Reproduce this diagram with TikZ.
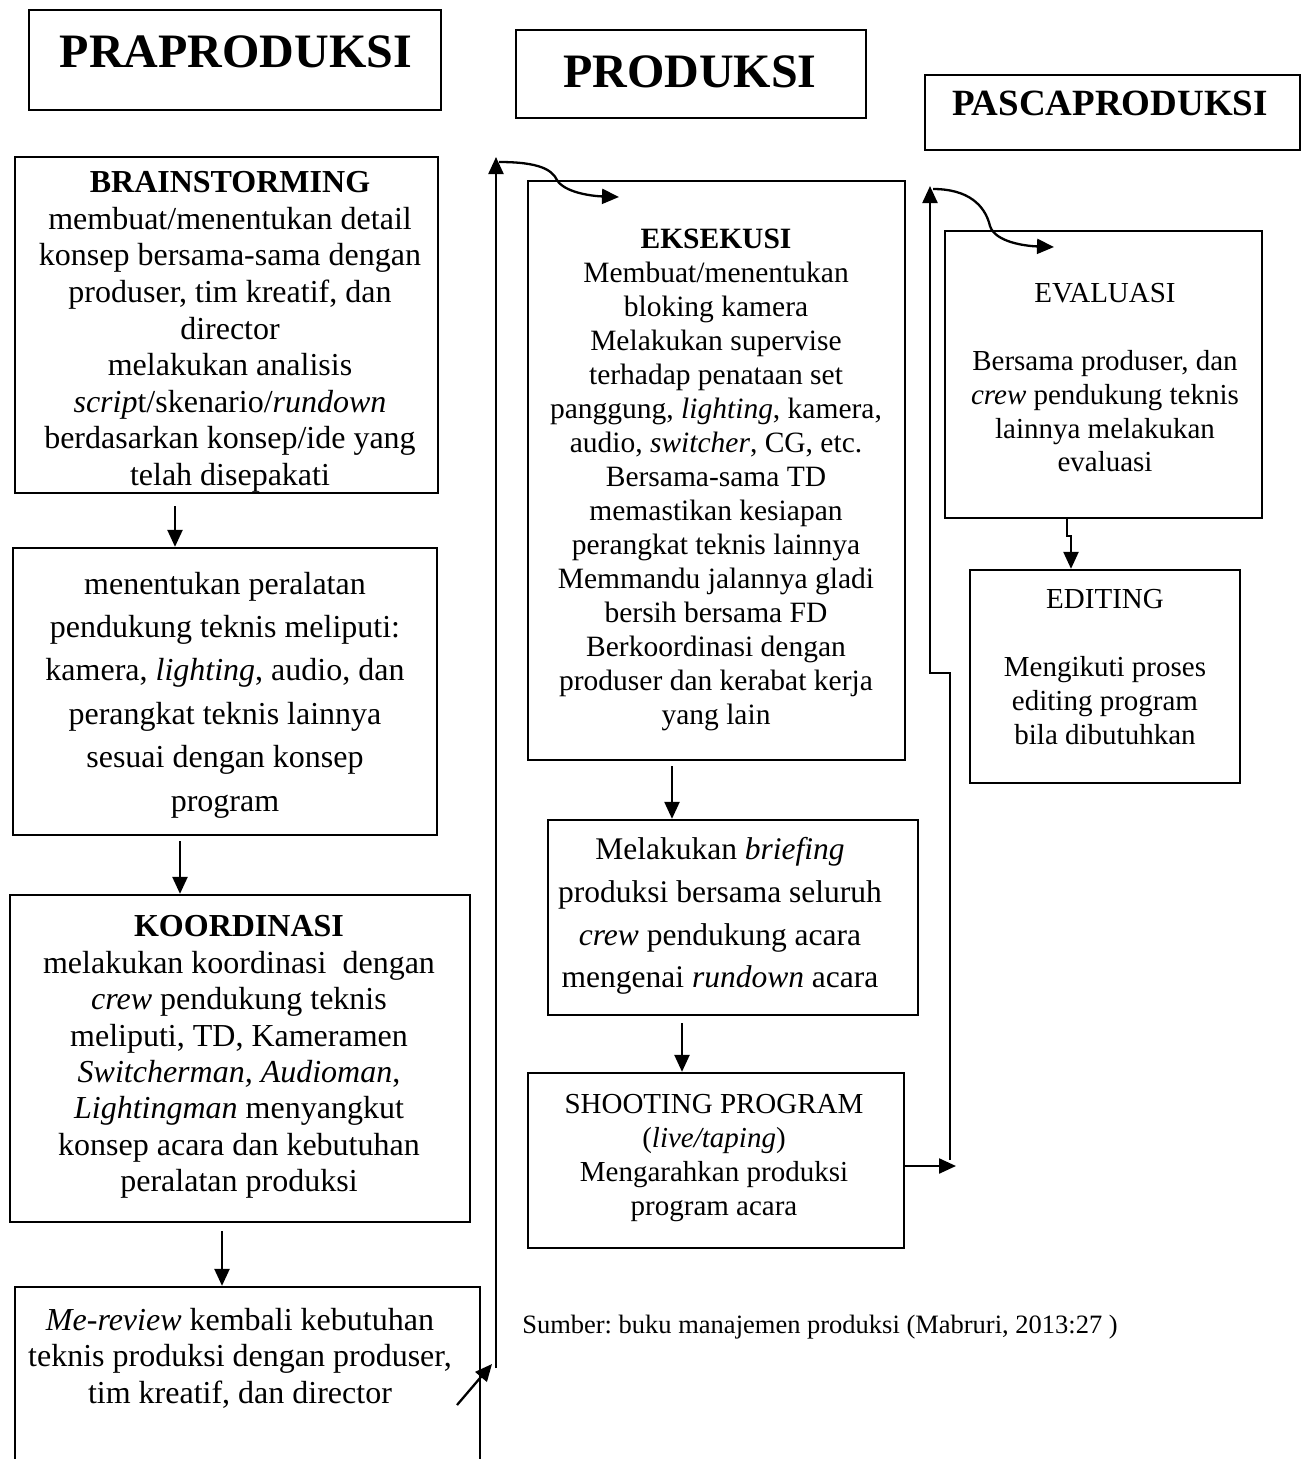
\documentclass[tikz,border=0pt]{standalone}
\usepackage{fontspec}
\setmainfont{Liberation Serif}
\usetikzlibrary{arrows.meta}
\newcommand\fsz[2]{\fontsize{#1}{#2}\selectfont}
\frenchspacing
\tikzset{
  box/.style={draw, line width=2.3pt, inner sep=0pt},
  headbox/.style={draw, line width=2.8pt, inner sep=0pt},
  txt/.style={align=center, inner sep=0pt},
  arr/.style={-{Triangle[length=17pt,width=15pt]}, line width=2.3pt},
}
\begin{document}
\begin{tikzpicture}[x=1pt,y=-1pt]
\useasboundingbox (0,0) rectangle (1301,1459);
% header boxes
\node[headbox, minimum width=412pt, minimum height=100pt] (pra) at (235,60) {};
\node[txt, font=\fsz{48}{52}\bfseries] (prat) at (236,52) {PRAPRODUKSI};
\node[headbox, minimum width=350pt, minimum height=88pt] (prod) at (691,74) {};
\node[txt, font=\fsz{48}{52}\bfseries] (prodt) at (690,72) {PRODUKSI};
\node[headbox, minimum width=375pt, minimum height=75pt] (pasca) at (1112.5,112.5) {};
\node[txt, font=\fsz{37}{40}\bfseries] (pascat) at (1110,103) {PASCAPRODUKSI};
% praproduksi column
\node[box, minimum width=423pt, minimum height=336pt] (brain) at (226.5,325) {};
\node[txt, font=\fsz{32}{36.6}] (braint) at (230,332) {\textbf{BRAINSTORMING}\\membuat/menentukan detail\\konsep bersama-sama dengan\\produser, tim kreatif, dan\\director\\melakukan analisis\\\textit{scrip}t/skenario/\textit{rundown}\\berdasarkan konsep/ide yang\\telah disepakati};
\node[box, minimum width=424pt, minimum height=287pt] (teknis) at (225,691.5) {};
\node[txt, font=\fsz{32}{43.4}] (teknist) at (225,695) {menentukan peralatan\\pendukung teknis meliputi:\\kamera, \textit{lighting}, audio, dan\\perangkat teknis lainnya\\sesuai dengan konsep\\program};
\node[box, minimum width=460pt, minimum height=327pt] (koor) at (240,1058.5) {};
\node[txt, font=\fsz{32}{36.4}] (koort) at (239,1057) {\textbf{KOORDINASI}\\melakukan koordinasi\ \ dengan\\\textit{crew} pendukung teknis\\meliputi, TD, Kameramen\\\textit{Switcherman, Audioman},\\\textit{Lightingman} menyangkut\\konsep acara dan kebutuhan\\peralatan produksi};
\node[box, minimum width=465pt, minimum height=226pt] (review) at (247.5,1400) {};
\node[txt, font=\fsz{32}{36.5}] (reviewt) at (240,1358) {\textit{Me-review} kembali kebutuhan\\teknis produksi dengan produser,\\tim kreatif, dan director};
% produksi column
\node[box, minimum width=377pt, minimum height=579pt] (eks) at (716.5,470.5) {};
\node[txt, font=\fsz{29.5}{34}] (ekst) at (716,480) {\textbf{EKSEKUSI}\\Membuat/menentukan\\bloking kamera\\Melakukan supervise\\terhadap penataan set\\panggung, \textit{lighting}, kamera,\\audio, \textit{switcher}, CG, etc.\\Bersama-sama TD\\memastikan kesiapan\\perangkat teknis lainnya\\Memmandu jalannya gladi\\bersih bersama FD\\Berkoordinasi dengan\\produser dan kerabat kerja\\yang lain};
\node[box, minimum width=370pt, minimum height=195pt] (brief) at (733,917.5) {};
\node[txt, font=\fsz{31.5}{42.7}] (brieft) at (720,916) {Melakukan \textit{briefing}\\produksi bersama seluruh\\\textit{crew} pendukung acara\\mengenai \textit{rundown} acara};
\node[box, minimum width=376pt, minimum height=175pt] (shoot) at (716,1160.5) {};
\node[txt, font=\fsz{29}{34.3}] (shoott) at (714,1158) {SHOOTING PROGRAM\\(\textit{live/taping})\\Mengarahkan produksi\\program acara};
% pascaproduksi column
\node[box, minimum width=317pt, minimum height=287pt] (eval) at (1103.5,374.5) {};
\node[txt, font=\fsz{29}{33.8}] (evalt) at (1105,378) {EVALUASI\\[33.8pt]Bersama produser, dan\\\textit{crew} pendukung teknis\\lainnya melakukan\\evaluasi};
\node[box, minimum width=270pt, minimum height=213pt] (edit) at (1105,676.5) {};
\node[txt, font=\fsz{29}{34}] (editt) at (1105,667) {EDITING\\[34pt]Mengikuti proses\\editing program\\bila dibutuhkan};
% source
\node[txt, font=\fsz{26.5}{29}] (sumber) at (820,1327) {Sumber: buku manajemen produksi (Mabruri, 2013:27 )};
% helper coordinates
\coordinate (xa) at (175,0);
\coordinate (xb) at (180,0);
\coordinate (xc) at (222,0);
\coordinate (xd) at (672,0);
\coordinate (xe) at (682,0);
\coordinate (xf) at (1067,0);
\coordinate (xg) at (1071,0);
% straight arrows
\draw[arr, shorten <=12pt] (brain.south -| xa) -- (teknis.north -| xa);
\draw[arr, shorten <=5pt] (teknis.south -| xb) -- (koor.north -| xb);
\draw[arr, shorten <=8pt] (koor.south -| xc) -- (review.north -| xc);
\draw[arr, shorten <=5pt] (eks.south -| xd) -- (brief.north -| xd);
\draw[arr, shorten <=7pt] (brief.south -| xe) -- (shoot.north -| xe);
\draw[arr, line join=miter] (eval.south -| xf) -- ++(0,17) -| (edit.north -| xg);
% loop from review back to eksekusi
\coordinate (d0) at (457,1405);
\coordinate (d1) at (492,1364);
\coordinate (l1b) at (496,1368);
\coordinate (l1t) at (496,157);
\coordinate (c0) at (499,162);
\coordinate (c1) at (619,197);
\draw[arr] (d0) -- (d1);
\draw[arr] (l1b) -- (l1t);
\draw[arr] (c0) .. controls (540,162) and (552,170) .. (557,180) .. controls (564,192) and (590,196) .. (c1);
% loop from shooting to evaluasi
\coordinate (l2a) at (956,1166);
\coordinate (l2b) at (950,1160);
\coordinate (l2c) at (950,673);
\coordinate (l2d) at (930,673);
\coordinate (l2t) at (930,186);
\coordinate (c2) at (933,189);
\coordinate (c3) at (1054,247);
\draw[arr] (shoot.east |- l2a) -- (l2a);
\draw[arr, line join=miter] (l2b) -- (l2c) -- (l2d) -- (l2t);
\draw[arr] (c2) .. controls (968,189) and (985,205) .. (990,226) .. controls (995,242) and (1025,246) .. (c3);
\end{tikzpicture}
\end{document}
